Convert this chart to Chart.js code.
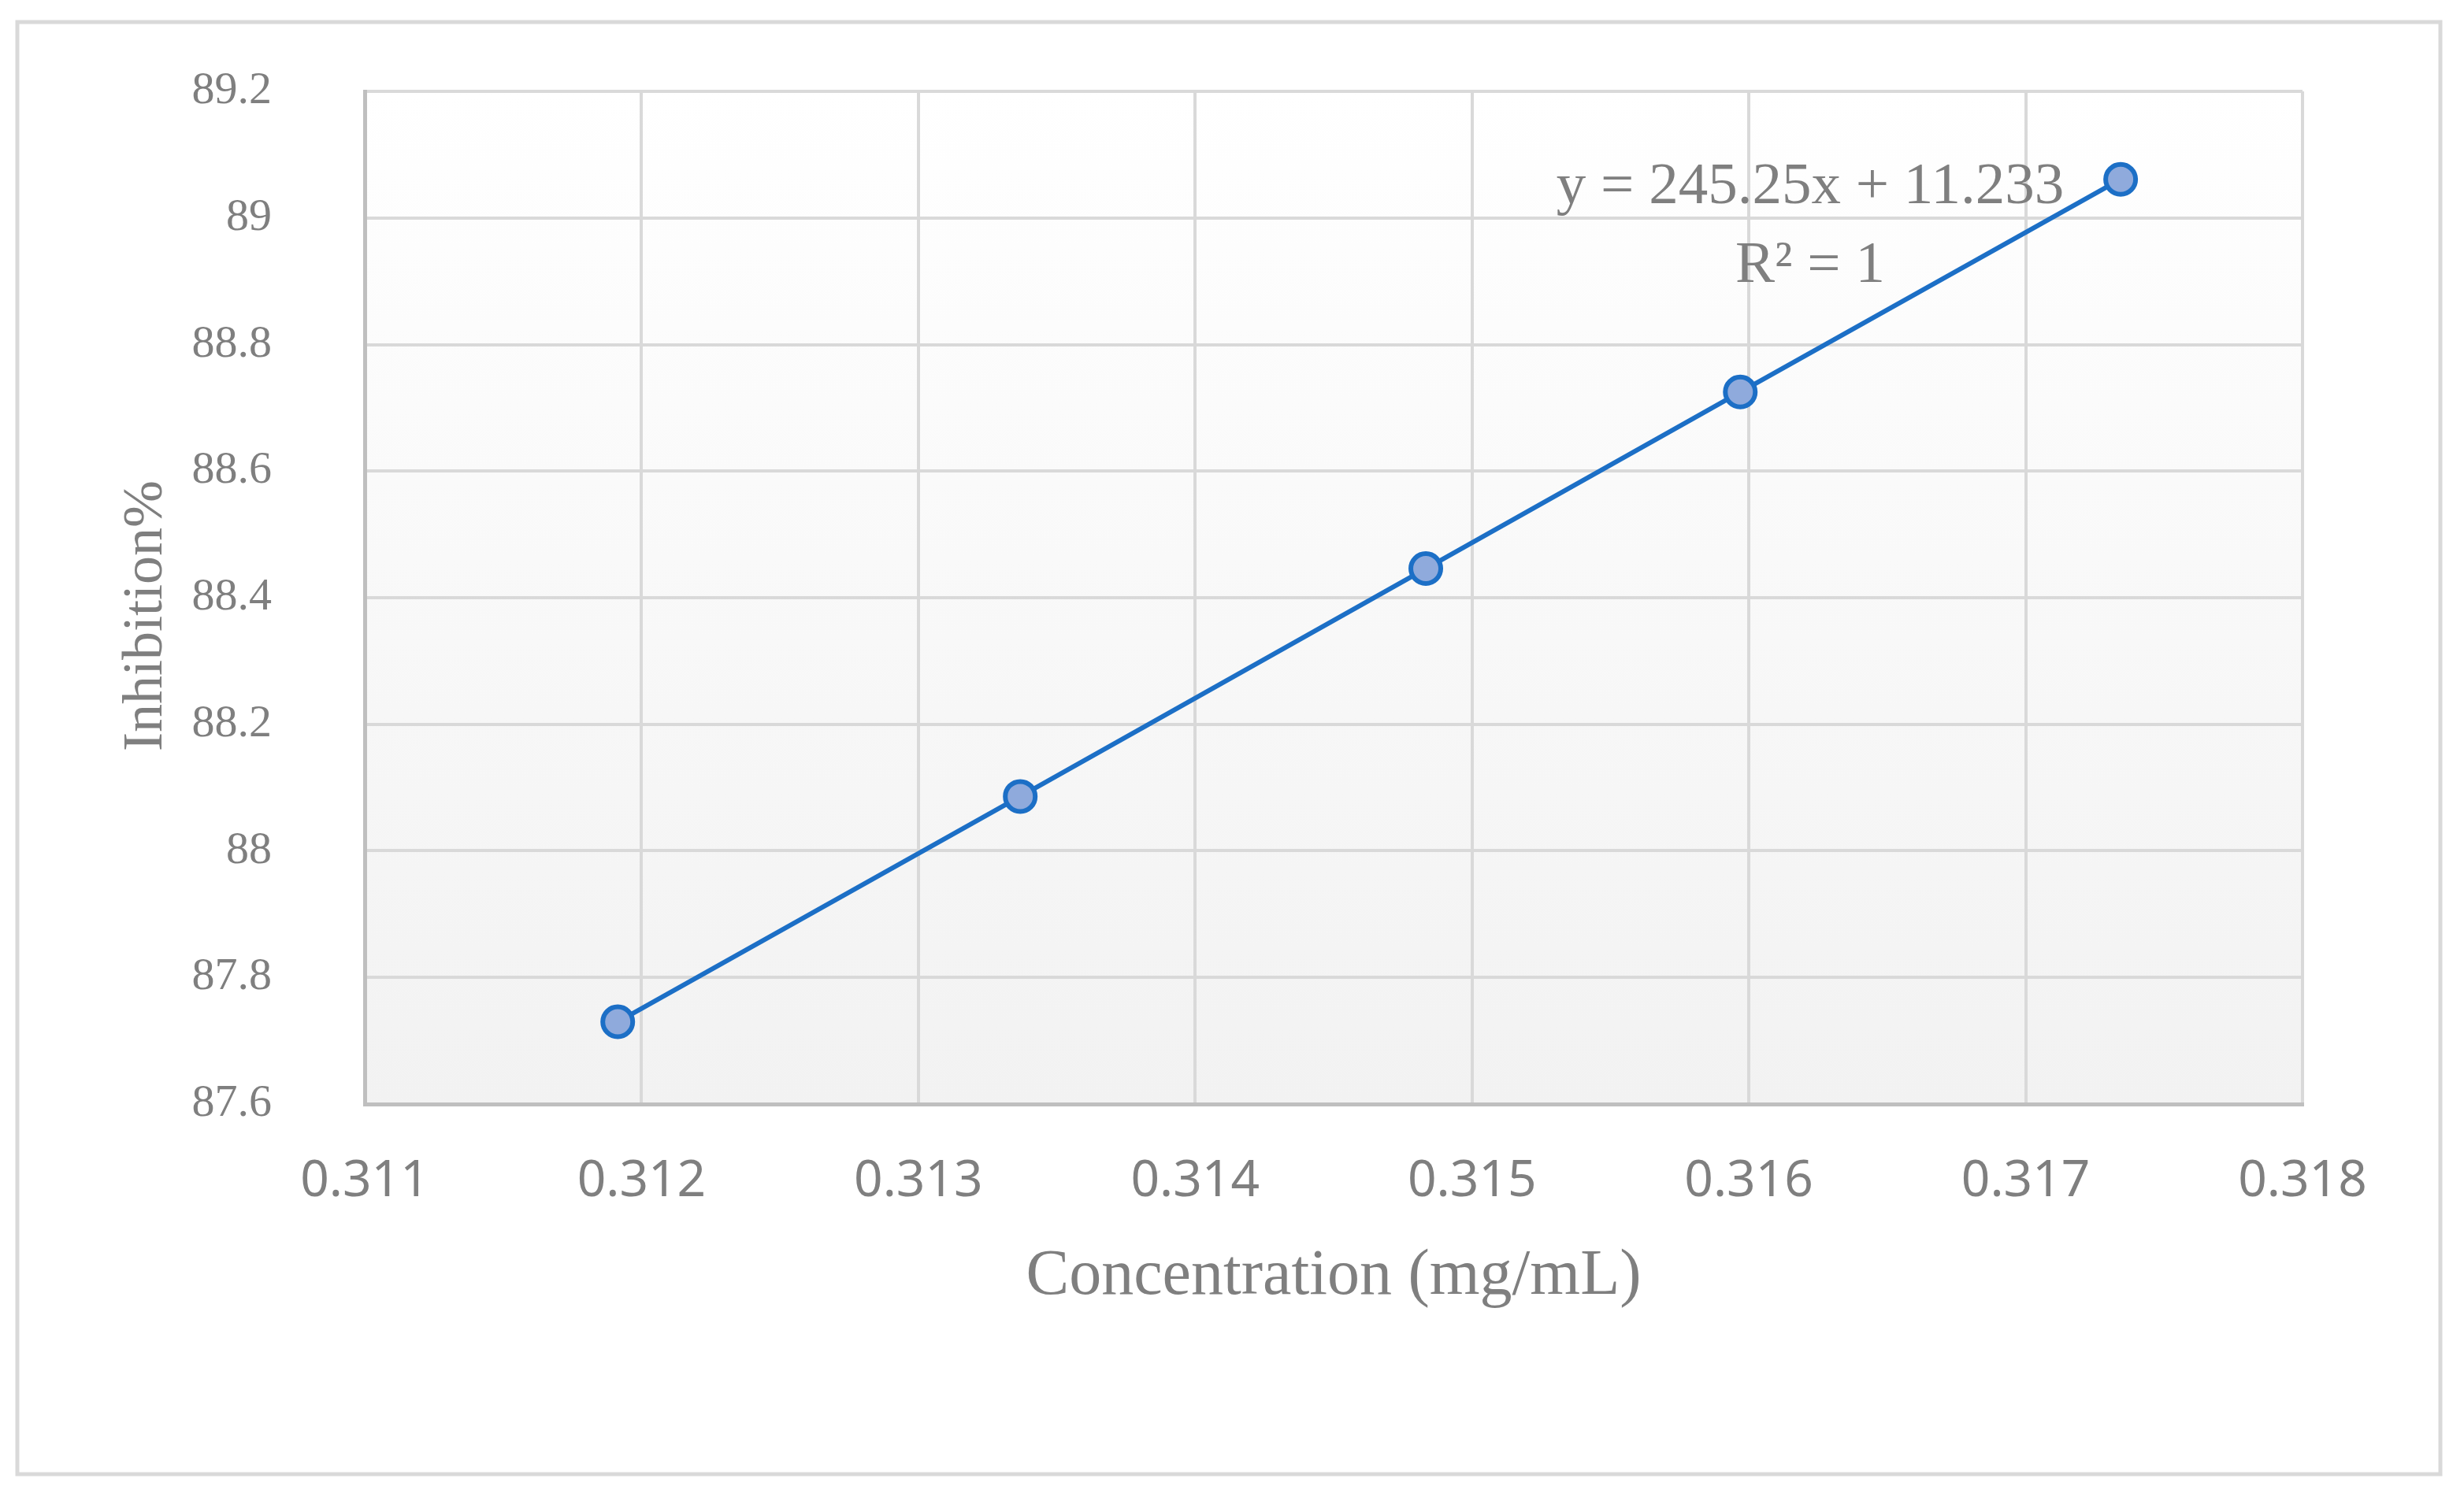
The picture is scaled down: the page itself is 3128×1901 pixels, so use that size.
<!DOCTYPE html>
<html>
<head>
<meta charset="utf-8">
<title>Inhibition% vs Concentration</title>
<script src="https://cdn.jsdelivr.net/npm/chart.js@4/dist/chart.umd.min.js"></script>
<style>
  html, body { margin: 0; padding: 0; background: #ffffff; }
  #wrap { width: 3128px; height: 1901px; position: relative; }
</style>
</head>
<body>
<div id="wrap"><canvas id="inhibitionChart"></canvas></div>
<script>
// values
const concentration = [0.311914, 0.313368, 0.314833, 0.315969, 0.317343];
const inhibition = [87.730, 88.086, 88.446, 88.725, 89.061];
const xTickValues = [0.311, 0.312, 0.313, 0.314, 0.315, 0.316, 0.317, 0.318];
const yTickValues = [87.6, 87.8, 88.0, 88.2, 88.4, 88.6, 88.8, 89.0, 89.2];
const trendLabel = ["y = 245.25x + 11.233", "R² = 1"];
const yTitle = "Inhibition%";

const textGray = "#7f7f7f";
const serif = "'Liberation Serif', 'DejaVu Serif', serif";

// plot background gradient + outer frame + trendline text + y title
const decorations = {
    id: "decorations",
    beforeDraw(chart) {
        const ctx = chart.ctx;
        const a = chart.chartArea;
        ctx.save();
        ctx.fillStyle = "#ffffff";
        ctx.fillRect(0, 0, chart.width, chart.height);
        const grad = ctx.createLinearGradient(0, a.top, 0, a.bottom);
        grad.addColorStop(0, "#ffffff");
        grad.addColorStop(1, "#f2f2f2");
        ctx.fillStyle = grad;
        ctx.fillRect(a.left, a.top, a.right - a.left, a.bottom - a.top);
        ctx.strokeStyle = "#d9d9d9";
        ctx.lineWidth = 5;
        ctx.strokeRect(22, 28, 3076, 1844);
        ctx.restore();
    },
    afterDatasetsDraw(chart) {
        const ctx = chart.ctx;
        ctx.save();
        ctx.fillStyle = textGray;
        ctx.font = "75px " + serif;
        ctx.textAlign = "center";
        ctx.textBaseline = "middle";
        ctx.fillText(trendLabel[0], 2298, 238);
        ctx.fillText(trendLabel[1], 2298, 338);

        ctx.font = "72px " + serif;
        ctx.translate(186, 782);
        ctx.rotate(-Math.PI / 2);
        ctx.fillText(yTitle, 0, 0);
        ctx.restore();
    }
};

new Chart(document.getElementById("inhibitionChart").getContext("2d"), {
    type: "scatter",
    data: {
        datasets: [{
            label: yTitle,
            data: concentration.map((c, i) => ({ x: c, y: inhibition[i] })),
            showLine: true,
            borderColor: "#1c6fc6",
            borderWidth: 6,
            pointRadius: 19,
            pointBorderWidth: 6,
            pointBackgroundColor: "#8faadc",
            pointBorderColor: "#1c6fc6"
        }]
    },
    options: {
        responsive: true,
        maintainAspectRatio: false,
        devicePixelRatio: 1,
        animation: false,
        layout: { padding: { left: 0, top: 116, right: 205, bottom: 0 } },
        plugins: {
            legend: { display: false },
            tooltip: { enabled: false }
        },
        scales: {
            x: {
                type: "linear",
                min: 0.311,
                max: 0.318,
                afterFit(scale) { scale.height = 499; },
                afterBuildTicks(scale) { scale.ticks = xTickValues.map(v => ({ value: v })); },
                grid: { color: "#d9d9d9", lineWidth: 4, drawTicks: false },
                border: { color: "#bfbfbf", width: 5 },
                ticks: {
                    color: textGray,
                    padding: 60,
                    font: { family: "'Noto Sans', sans-serif", size: 64 },
                    callback: v => v.toFixed(3)
                },
                title: {
                    display: true,
                    text: "Concentration (mg/mL)",
                    color: textGray,
                    font: { family: serif, size: 82, lineHeight: 1.2 },
                    padding: { top: 0, bottom: 230 }
                }
            },
            y: {
                type: "linear",
                min: 87.6,
                max: 89.2,
                afterFit(scale) {
                    scale.width = 463;
                    // tick padding is horizontal offset only; don't let it push the plot top down
                    scale.paddingTop = 0;
                    scale.paddingBottom = 0;
                },
                afterBuildTicks(scale) { scale.ticks = yTickValues.map(v => ({ value: v })); },
                grid: { color: "#d9d9d9", lineWidth: 4, drawTicks: false },
                border: { color: "#bfbfbf", width: 5 },
                ticks: {
                    color: textGray,
                    padding: 118,
                    font: { family: serif, size: 58 },
                    callback: v => String(Number(v.toFixed(1)))
                },
                title: { display: false }
            }
        }
    },
    plugins: [decorations]
});
</script>
</body>
</html>
